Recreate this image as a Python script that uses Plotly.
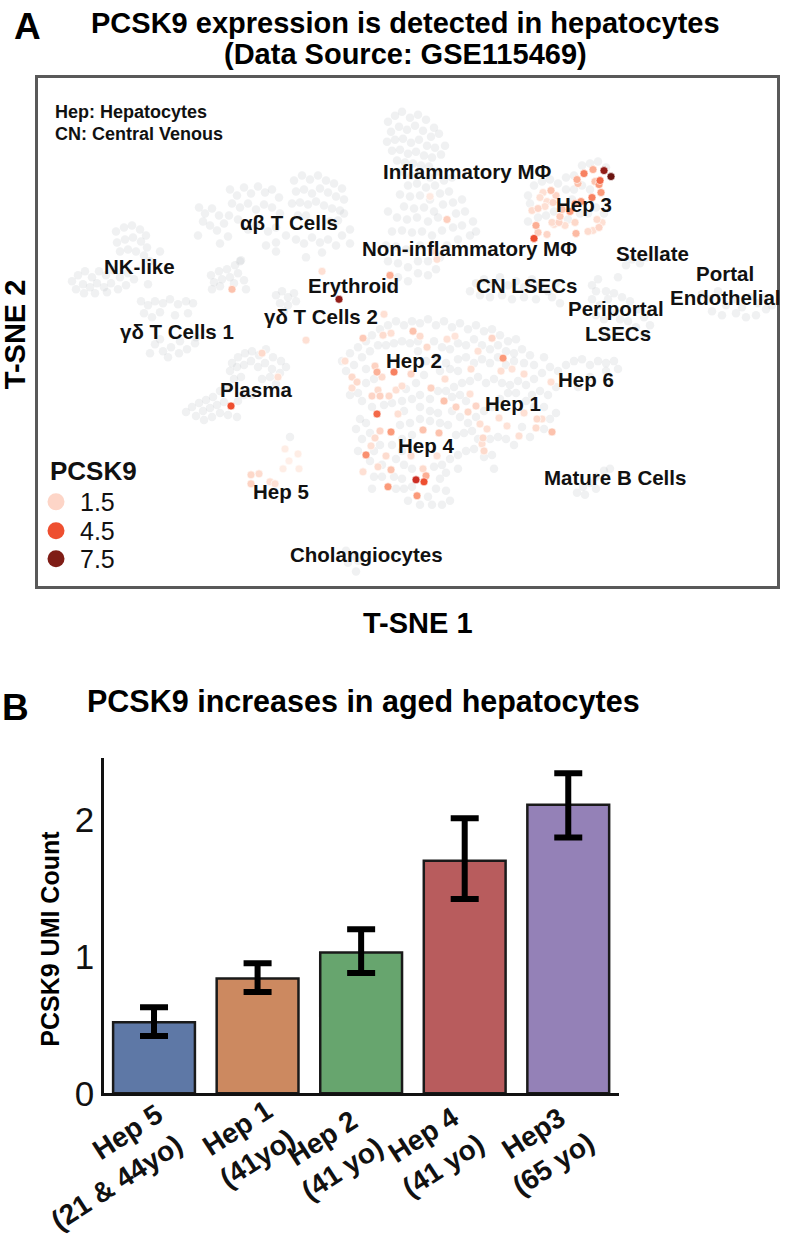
import plotly.graph_objects as go

FONT = "Liberation Sans"

# ------------------------------------------------------------
# A. t-SNE, coordinates (px-like units)
# ------------------------------------------------------------
grey_macrophage = [
    (388,122),(395,116),(402,112),(410,118),(418,115),(426,120),(434,128),(391,132),(399,127),(407,130),
    (415,126),(423,131),(431,137),(439,134),(387,142),(395,140),(403,139),(411,143),(419,140),(427,146),
    (435,148),(392,151),(400,150),(408,154),(416,152),(424,156),(432,158),(397,161),(405,163),(413,164),
    (421,166),(429,167),(445,146),(441,155),(402,172),(411,176),(420,174),(430,178),(438,172),(408,186),
    (417,184),(426,188),(435,186),(444,181),(452,178),(400,195),(410,197),(420,196),(430,200),(440,194),
    (449,192),(404,207),(414,209),(424,208),(434,212),(443,205),(453,203),(462,200),(397,218),(407,220),
    (417,218),(428,222),(438,218),(456,214),(465,212),(388,212),(392,232),(402,231),(412,233),(422,232),
    (432,236),(442,231),(453,228),(462,226),(470,236),(386,246),(396,247),(406,250),(418,262),(428,262),
    (388,262),(398,264),(408,268),(440,258),(418,274),(428,276),(398,278),(408,282),(392,288),(436,270),
    (473,222),(476,232),(420,246),(447,246),(458,240),
]
grey_t_cells = [
    (199,208),(205,214),(212,209),(219,216),(203,222),(210,226),(217,231),(224,224),(228,237),(220,244),
    (230,190),(237,196),(244,188),(251,194),(258,187),(265,193),(272,190),(279,198),(232,204),(240,208),
    (248,204),(256,210),(264,205),(272,208),(280,214),(229,216),(238,220),(248,230),(256,226),(276,228),
    (266,246),(276,243),(268,232),(286,236),(294,181),(302,176),(310,180),(318,176),(326,181),(334,184),
    (342,189),(296,192),(304,190),(312,194),(320,189),(328,193),(336,197),(344,200),(292,204),(300,203),
    (308,205),(316,202),(324,206),(332,209),(340,211),(298,216),(306,216),(330,222),(338,221),(344,214),
    (296,240),(304,244),(312,238),(320,243),(328,240),(336,246),(342,236),(350,230),(350,244),(322,253),
    (306,258),(276,252),(198,236),
]
grey_nk = [
    (116,232),(124,228),(132,226),(140,230),(146,236),(117,243),(125,240),(133,238),(141,242),(147,248),
    (120,252),(128,250),(136,252),(144,256),(150,262),(160,252),(72,282),(78,276),(85,272),(92,278),
    (99,272),(106,276),(113,271),(120,278),(128,274),(76,290),(83,285),(90,288),(97,284),(104,288),
    (111,284),(118,290),(126,286),(134,280),(84,294),(95,294),(107,293),(148,285),
]
grey_gd1 = [
    (141,302),(148,306),(155,302),(163,304),(170,300),(178,305),(186,302),(193,304),(144,314),(152,318),
    (160,313),(175,316),(188,314),(155,345),(163,352),(171,348),(179,354),(187,350),(195,344),(160,340),
    (180,342),(196,338),(150,354),(168,358),
]
grey_gd2 = [
    (211,276),(219,272),(227,270),(235,266),(241,261),(214,283),(222,280),(230,278),(238,274),(244,281),
    (212,290),(220,287),(234,284),(246,290),(240,262),(276,296),(282,292),(288,298),(294,294),(280,304),
    (288,306),(296,302),(284,312),
]
grey_plasma = [
    (232,364),(238,358),(245,354),(252,352),(259,356),(266,350),(273,358),(281,362),(286,368),(230,372),
    (237,368),(244,366),(251,362),(258,368),(265,364),(272,370),(280,374),(234,380),(241,378),(262,380),
    (270,378),(276,385),(186,413),(192,408),(199,404),(206,401),(213,398),(220,392),(228,390),(196,417),
    (203,412),(210,409),(217,406),(224,403),(204,421),(212,418),(220,414),(228,416),(237,418),(238,402),
    (244,396),(252,396),(290,438),
]
grey_hep = [
    (342,362),(350,354),(358,348),(366,342),(372,336),(380,330),(388,326),(396,322),(404,326),(412,322),
    (420,324),(428,320),(436,326),(444,322),(452,328),(460,324),(468,330),(476,326),(484,332),(492,330),
    (500,336),(508,342),(516,340),(346,372),(354,366),(362,358),(370,352),(378,346),(386,346),(394,344),
    (402,342),(410,344),(418,342),(434,342),(442,348),(450,350),(458,344),(466,346),(474,340),(482,346),
    (490,350),(498,346),(506,352),(514,354),(522,350),(530,356),(350,396),(358,394),(366,370),(374,380),
    (366,384),(362,402),(372,408),(384,406),(392,404),(402,402),(412,400),(420,396),(430,400),(438,392),
    (446,392),(454,388),(462,384),(470,382),(478,378),(486,384),(494,380),(502,384),(510,386),(518,382),
    (526,386),(534,380),(542,374),(550,368),(458,360),(466,358),(474,364),(482,360),(490,364),(498,358),
    (506,366),(514,362),(524,364),(534,366),(544,358),(418,352),(426,362),(436,358),(446,364),(440,372),
    (450,370),(458,372),(424,376),(416,384),(406,390),(452,398),(460,396),(466,402),(452,412),(460,418),
    (468,424),(476,418),(484,412),(492,408),(500,400),(508,394),(516,394),(532,396),(540,392),(548,396),
    (556,388),(420,408),(430,412),(438,414),(410,424),(420,420),(404,412),(412,436),(402,440),(400,426),
    (430,422),(440,424),(448,426),(456,436),(464,434),(472,432),(478,440),(490,440),(498,438),(506,440),
    (514,446),(522,428),(530,438),(544,430),(550,420),(556,414),(544,408),(534,408),(526,402),(360,420),
    (356,430),(366,424),(370,434),(362,440),(358,452),(374,452),(380,446),(392,446),(402,452),(396,460),
    (404,466),(412,470),(370,462),(382,466),(394,478),(402,480),(374,478),(382,478),(372,490),(396,490),
    (404,490),(412,488),(434,468),(442,466),(450,460),(458,456),(466,452),(474,450),(484,458),(492,456),
    (440,480),(446,492),(436,490),(428,498),(432,506),(442,506),(450,502),(420,506),(408,502),(446,474),
    (458,470),(494,470),
]
grey_hep3 = [
    (528,196),(534,186),(542,182),(550,180),(558,184),(566,178),(574,176),(582,166),(590,164),(598,162),
    (606,168),(566,190),(574,190),(582,186),(590,190),(538,218),(546,216),(554,212),(568,220),(580,214),
    (588,214),(596,208),(604,214),(572,200),(528,222),(530,204),
]
grey_endothelial = [
    (470,292),(476,284),(484,280),(492,284),(500,278),(508,286),(516,282),(524,288),(532,280),(540,286),
    (548,292),(556,284),(480,296),(490,298),(502,296),(512,300),(524,298),(536,300),(552,298),(560,304),
    (592,286),(598,280),(606,292),(592,300),(600,306),(608,300),(614,294),(622,298),(630,302),(638,310),
    (644,318),(650,326),(596,316),(604,320),(612,314),(620,320),(628,322),(636,328),(644,336),(606,336),
    (596,292),(618,278),(632,260),(640,264),(646,258),(626,266),
    (702,295),(710,300),(718,292),(726,306),(734,300),(742,308),(750,298),(758,304),(766,310),(712,312),
    (722,316),(736,314),(746,318),(756,316),(764,298),(772,306),
    (558,372),(566,366),(574,362),(582,360),(590,366),(598,362),(606,364),(614,362),(618,370),(606,372),
    (590,378),(578,388),
    (577,494),(583,488),(590,484),(596,478),(604,472),(610,470),(585,496),(596,490),(606,482),
    (346,552),(352,558),(358,562),(348,564),(356,573),
]

# (x, y, PCSK9)
pcsk9_hep124 = [
    (363,339,1.8),(383,336,1.2),(391,334,1),(413,332,2),(420,337,1.2),(427,348,1.3),(447,340,.9),(455,337,.8),
    (492,339,1.5),(503,359,3),(345,362,1),(375,367,1.6),(377,373,2.4),(394,373,3.5),(411,375,1.5),(352,378,1.3),
    (357,383,1.3),(382,378,1.2),(352,389,1),(378,391,1.2),(396,391,1),(402,387,1),(372,397,1.5),(380,397,1.6),
    (389,397,1.3),(431,389,1.6),(445,380,1),(444,402,2),(456,408,1.6),(468,413,1.4),(476,407,1.5),(470,395,.9),
    (471,370,1),(478,352,.9),(501,372,1),(512,370,.8),(524,375,1),(377,415,4),(398,415,1),(380,432,1.5),
    (391,433,3),(375,439,1.2),(423,431,2),(439,434,2),(371,447,1),(366,456,3.2),(386,457,1.2),(411,457,1.2),
    (437,457,1),(378,468,1.2),(391,471,2),(363,473,1),(423,470,1.3),(426,477,2.5),(416,481,5.5),(424,483,4.5),
    (388,488,3),(417,497,3),(480,425,1),(487,430,1),(483,439,1.3),(482,445,1),(484,452,1.3),(507,427,.9),
    (499,419,1),(519,437,1),(524,414,1),(537,420,1.3),(542,420,1),(536,429,1.2),(552,433,2),(551,383,1),
]
pcsk9_hep3 = [
    (604,171,7),(611,177,8),(593,170,2.5),(584,174,3.5),(577,180,2.5),(578,184,2),(600,181,4),(595,182,2),
    (599,185,3),(601,193,3),(592,198,3.5),(581,202,3),(575,204,2.5),(551,191,2),(556,196,1.5),(543,193,1),
    (540,198,1),(547,202,1),(553,203,1.5),(538,209,1.5),(532,211,1.2),(545,207,1),(570,212,3),(560,217,1.8),
    (552,223,1.2),(536,226,2.5),(538,233,1.7),(534,239,4.5),(547,235,1.5),(554,225,1),(559,223,1.5),(565,226,1),
    (576,234,2.2),(588,232,1.2),(593,231,1),(599,228,1.5),(597,220,1.2),(602,223,1),(575,223,1.4),(562,210,2),
]
pcsk9_other = [
    (447,220,1.7),(390,276,2.5),(339,300,7),(232,290,2),(322,272,1),(384,315,1),(306,341,1),(262,354,1.3),
    (231,407,4.5),(278,378,1),(251,476,1.4),(251,485,1.6),(259,475,1.2),(270,483,1),(275,485,1),(285,450,.4),
    (298,455,.4),(283,470,.4),(299,470,.4),(289,462,.3),(432,252,1),(437,260,1),(430,197,.5),
]

legend_values = [1.5, 4.5, 7.5]
legend_labels = ["1.5", "4.5", "7.5"]
legend_x = [56, 56, 56]
legend_y = [503, 532, 560]

cell_labels = [
    ("Inflammatory MΦ", 467, 172), ("Hep 3", 584, 205), ("αβ T Cells", 289, 223),
    ("Non-inflammatory MΦ", 469, 249), ("Stellate", 652, 254), ("Portal", 725, 274),
    ("Endothelial", 725, 298), ("NK-like", 139, 267), ("Erythroid", 353, 286),
    ("CN LSECs", 526, 286), ("Periportal", 616, 309), ("LSECs", 618, 334),
    ("γδ T Cells 1", 177, 332), ("γδ T Cells 2", 321, 317), ("Hep 2", 414, 361),
    ("Hep 6", 586, 380), ("Plasma", 256, 390), ("Hep 1", 513, 404), ("Hep 4", 426, 447),
    ("Mature B Cells", 615, 479), ("Hep 5", 281, 493), ("Cholangiocytes", 366, 556),
]

# ------------------------------------------------------------
# B. bars
# ------------------------------------------------------------
hep_groups = ["Hep 5<br>(21 & 44yo)", "Hep 1<br>(41yo)", "Hep 2<br>(41 yo)",
              "Hep 4<br>(41 yo)", "Hep3<br>(65 yo)"]
umi_count = [0.52, 0.84, 1.03, 1.70, 2.11]
umi_upper = [0.63, 0.95, 1.20, 2.01, 2.34]
umi_lower = [0.42, 0.74, 0.88, 1.42, 1.87]
bar_colors = ["#5E78A6", "#CC8960", "#67A56E", "#B85C5D", "#9481B7"]
label_shift = [-48, -11, -29, -32, -25]
label_y = [1170, 1146, 1156, 1153, 1151]
label_align = ["right", "center", "center", "center", "center"]

W, H = 788, 1236
reds = [[0, "#FFF5F0"], [0.19, "#FDD5C6"], [0.375, "#FB9A7A"], [0.56, "#EF5030"],
        [0.75, "#BB1C1C"], [0.94, "#7E1D16"], [1, "#6B1410"]]

fig = go.Figure()

grey_all = (grey_macrophage + grey_t_cells + grey_nk + grey_gd1 + grey_gd2 + grey_plasma
            + grey_hep + grey_hep3 + grey_endothelial)
fig.add_trace(go.Scatter(x=[p[0] for p in grey_all], y=[p[1] for p in grey_all], mode="markers",
    marker=dict(size=8.5, color="#BFC4CA", opacity=0.24, line_width=0),
    showlegend=False, hoverinfo="skip"))

pcsk9_all = sorted(pcsk9_hep124 + pcsk9_hep3 + pcsk9_other, key=lambda p: p[2])
fig.add_trace(go.Scatter(x=[p[0] for p in pcsk9_all], y=[p[1] for p in pcsk9_all], mode="markers",
    marker=dict(size=8, color=[p[2] for p in pcsk9_all], colorscale=reds, cmin=0, cmax=8,
                line=dict(color="rgba(255,255,255,0.8)", width=0.8)),
    showlegend=False))

# legenda desenhada dentro do painel
fig.add_trace(go.Scatter(x=legend_x, y=legend_y, mode="markers",
    marker=dict(size=17, color=legend_values, colorscale=reds, cmin=0, cmax=8, line_width=0),
    showlegend=False, hoverinfo="skip"))

fig.add_trace(go.Bar(x=list(range(5)), y=umi_count, width=0.79, xaxis="x2", yaxis="y2",
    marker=dict(color=bar_colors, line=dict(color="#1a1a1a", width=2.5)),
    error_y=dict(type="data", symmetric=False,
                 array=[u - v for u, v in zip(umi_upper, umi_count)],
                 arrayminus=[v - l for v, l in zip(umi_count, umi_lower)],
                 color="black", thickness=6, width=14),
    showlegend=False))

def add_text(text, px, py, size, bold=True, angle=0, color="#111111", xanchor="center"):
    fig.add_annotation(text=f"<b>{text}</b>" if bold else text, x=px / W, y=1 - py / H,
        xref="paper", yref="paper", xanchor=xanchor, yanchor="middle", showarrow=False,
        textangle=angle, font=dict(family=FONT, size=size, color=color))

add_text("A", 27, 27, 37, color="black")
add_text("B", 15, 709, 37, color="black")
add_text("PCSK9 expression is detected in hepatocytes", 405, 23, 29, color="black")
add_text("(Data Source: GSE115469)", 405, 54, 29, color="black")
add_text("PCSK9 increases in aged hepatocytes", 363, 703, 30.5, color="black")
add_text("T-SNE 2", 15, 335, 29, angle=-90, color="black")
add_text("T-SNE 1", 418, 625, 29, color="black")
add_text("PCSK9 UMI Count", 50, 941, 25, angle=-90, color="black")
add_text("Hep: Hepatocytes", 53, 112, 18, xanchor="left")
add_text("CN: Central Venous", 53, 134, 18, xanchor="left")
add_text("PCSK9", 48, 472, 26, xanchor="left")
for lab, py in zip(legend_labels, legend_y):
    add_text(lab, 78, py, 25, bold=False, xanchor="left")
for lab, px, py in cell_labels:
    add_text(lab, px, py, 20.5)

# rótulos do eixo x como anotações giradas
for i, lab in enumerate(hep_groups):
    fig.add_annotation(text=f"<b>{lab}</b>", x=i, y=1 - label_y[i] / H, xref="x2", yref="paper",
        xshift=label_shift[i], xanchor="center", yanchor="middle", showarrow=False, textangle=-33,
        align=label_align[i], font=dict(family=FONT, size=28, color="#111111"))

fig.update_layout(
    width=W, height=1252, autosize=False, margin=dict(l=0, r=0, t=0, b=0),
    paper_bgcolor="white", plot_bgcolor="white", font=dict(family=FONT),
    xaxis=dict(domain=[38 / W, 777 / W], range=[38, 777], showticklabels=False, ticks="",
               showgrid=False, zeroline=False, showline=True, mirror=True,
               linecolor="#595959", linewidth=3),
    yaxis=dict(domain=[1 - 587 / H, 1 - 78 / H], range=[587, 78], showticklabels=False, ticks="",
               showgrid=False, zeroline=False, showline=True, mirror=True,
               linecolor="#595959", linewidth=3),
    xaxis2=dict(domain=[104 / W, 619 / W], range=[-0.483, 4.49], anchor="y2", showticklabels=False,
                ticks="", showgrid=False, zeroline=False, showline=True, linecolor="#111111", linewidth=2.5),
    yaxis2=dict(domain=[1 - 1096 / H, 1 - 760 / H], range=[0, 2.45], anchor="x2", tickvals=[0, 1, 2],
                ticks="", showgrid=False, zeroline=False, showline=True, linecolor="#111111", linewidth=2.5,
                tickfont=dict(family=FONT, size=35, color="#111111")),
)

fig.write_html("out.html", config={"displayModeBar": False}, post_script="document.body.style.margin='0';")
